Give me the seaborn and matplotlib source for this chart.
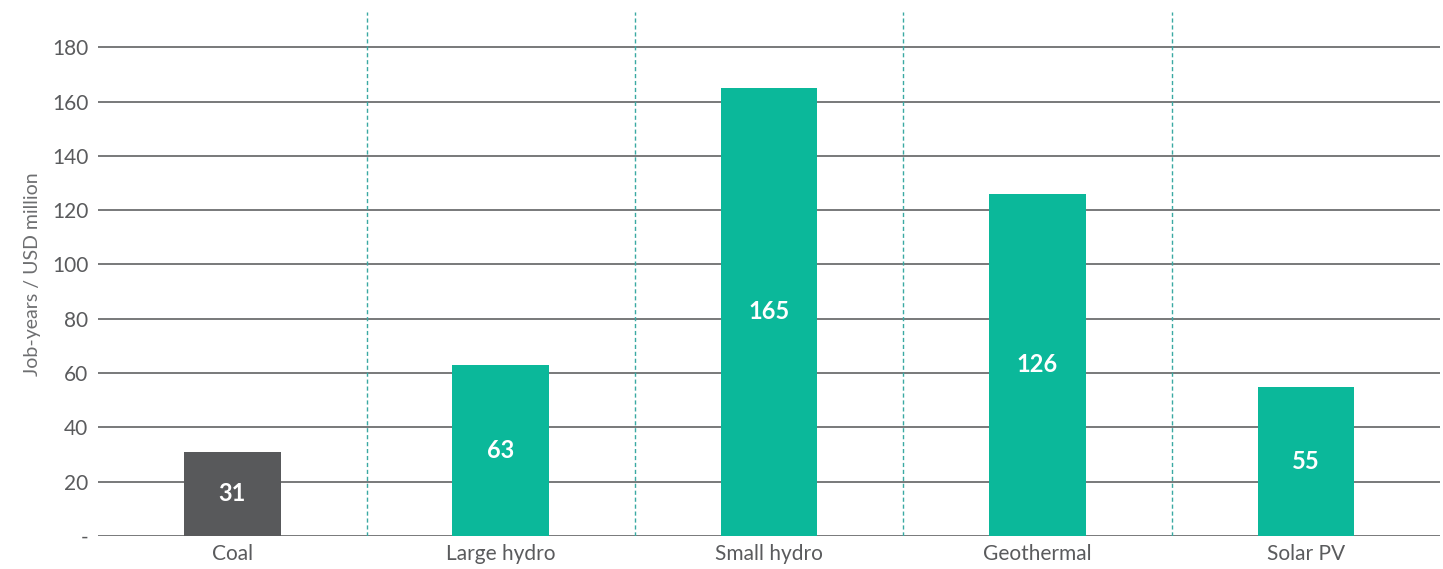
import matplotlib
matplotlib.use("Agg")
import matplotlib.pyplot as plt
import seaborn as sns
import pandas as pd

# Employment intensity by technology
technologies = ["Coal", "Large hydro", "Small hydro", "Geothermal", "Solar PV"]
job_years = [31, 63, 165, 126, 55]
bar_colors = ["#58595b", "#0bb89a", "#0bb89a", "#0bb89a", "#0bb89a"]
y_ticks = [0, 20, 40, 60, 80, 100, 120, 140, 160, 180]
y_tick_labels = ["-", "20", "40", "60", "80", "100", "120", "140", "160", "180"]

sns.set_theme(style="white")
plt.rcParams["font.family"] = ["Lato", "DejaVu Sans"]

df = pd.DataFrame({"tech": technologies, "jobs": job_years})

fig = plt.figure(figsize=(14.43, 5.69), dpi=100)
ax = fig.add_axes([0.068, 0.058, 0.93, 0.921])

# horizontal rules behind the bars
for t in y_ticks:
    ax.axhline(t, color="#6d6e70", lw=1.3, zorder=0)

sns.barplot(data=df, x="tech", y="jobs", hue="tech", palette=bar_colors,
            width=0.36, saturation=1, legend=False, ax=ax, zorder=2,
            linewidth=0)

# dashed separators between categories
for i in range(len(technologies) - 1):
    ax.axvline(i + 0.5, color="#3aa9a3", lw=1.0, ls=(0, (3, 2)), zorder=1)

# value labels at mid-height
for i, v in enumerate(job_years):
    ax.text(i, v / 2, str(v), ha="center", va="center", color="white",
            fontsize=17, fontweight="bold", zorder=3)

ax.set_xlim(-0.5, 4.5)
ax.set_ylim(0, 193)
ax.set_yticks(y_ticks)
ax.set_yticklabels(y_tick_labels)
ax.tick_params(axis="y", labelsize=15, labelcolor="#5a5b5d", length=0, pad=7)
ax.tick_params(axis="x", labelsize=15, labelcolor="#5a5b5d", length=0, pad=6)
ax.set_xlabel("")
ax.set_ylabel("Job-years / USD million", fontsize=14, color="#6d6e70",
              labelpad=8)
for s in ax.spines.values():
    s.set_visible(False)

fig.savefig("out.png", dpi=100)
